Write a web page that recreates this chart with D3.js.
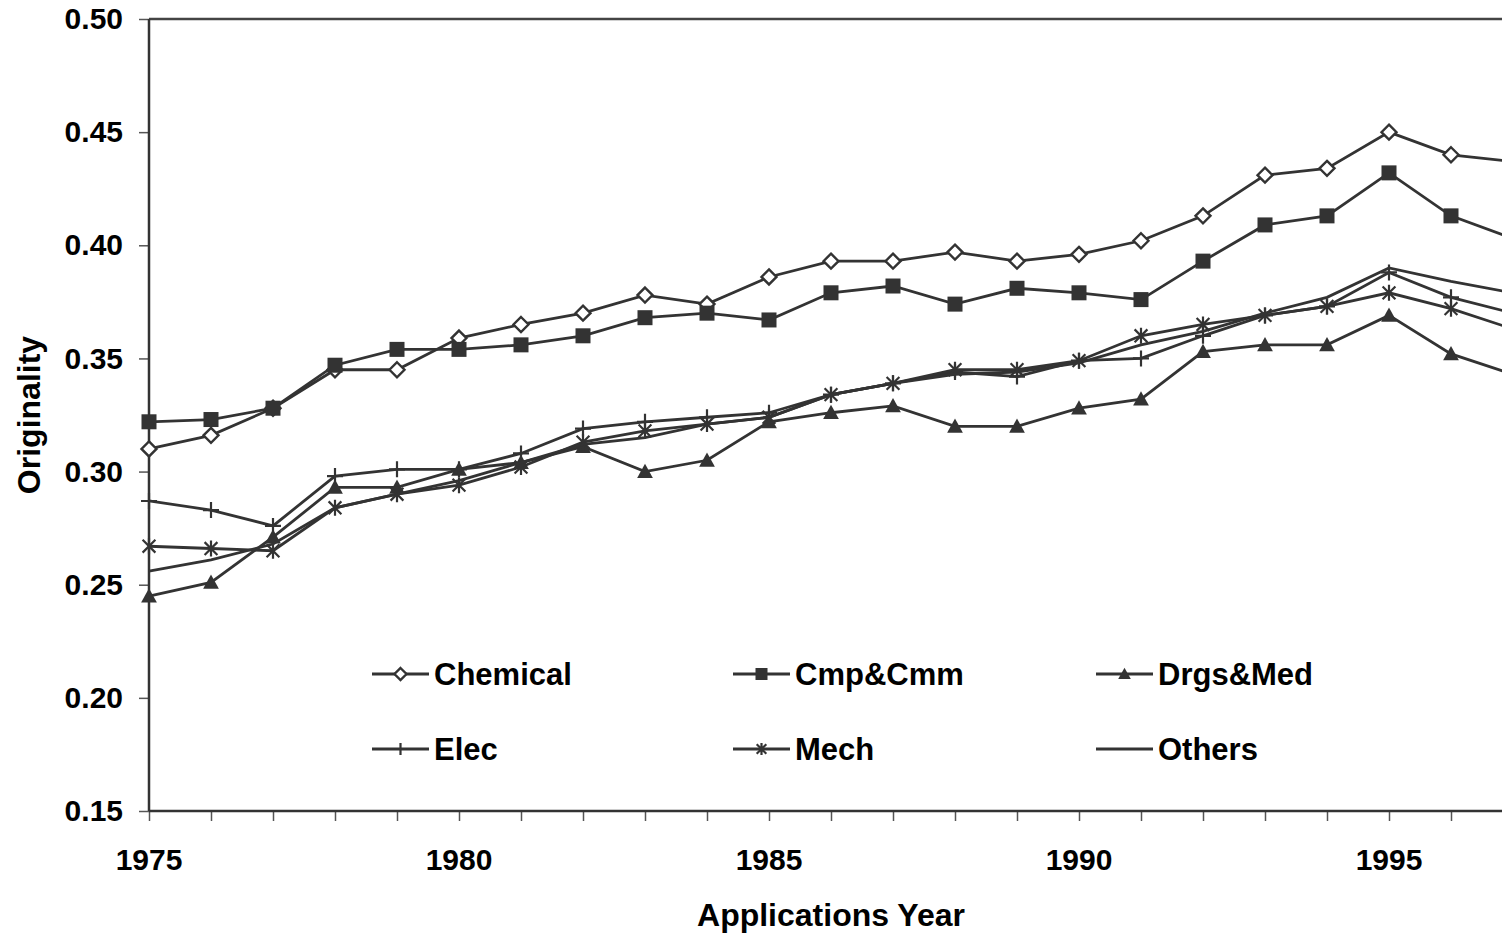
<!DOCTYPE html>
<html>
<head>
<meta charset="utf-8">
<script src="https://cdn.jsdelivr.net/npm/d3@7"></script>
<style>
  body { margin: 0; background: #fff; }
  text { font-family: "Liberation Sans", Arial, sans-serif; font-weight: bold; fill: #000; }
</style>
</head>
<body>
<div id="graph"></div>
<script>
var years = [1975,1976,1977,1978,1979,1980,1981,1982,1983,1984,1985,1986,1987,1988,1989,1990,1991,1992,1993,1994,1995,1996,1997];

var chemical = [0.310,0.316,0.328,0.345,0.345,0.359,0.365,0.370,0.378,0.374,0.386,0.393,0.393,0.397,0.393,0.396,0.402,0.413,0.431,0.434,0.450,0.440,0.437];
var cmpCmm   = [0.322,0.323,0.328,0.347,0.354,0.354,0.356,0.360,0.368,0.370,0.367,0.379,0.382,0.374,0.381,0.379,0.376,0.393,0.409,0.413,0.432,0.413,0.403];
var drgsMed  = [0.245,0.251,0.271,0.293,0.293,0.301,0.304,0.311,0.300,0.305,0.322,0.326,0.329,0.320,0.320,0.328,0.332,0.353,0.356,0.356,0.369,0.352,0.343];
var elec     = [0.287,0.283,0.276,0.298,0.301,0.301,0.308,0.319,0.322,0.324,0.326,0.334,0.339,0.344,0.342,0.349,0.350,0.360,0.369,0.373,0.388,0.377,0.370];
var mech     = [0.267,0.266,0.265,0.284,0.290,0.294,0.302,0.313,0.318,0.321,0.324,0.334,0.339,0.345,0.345,0.349,0.360,0.365,0.369,0.373,0.379,0.372,0.363];
var others   = [0.256,0.261,0.268,0.284,0.290,0.296,0.304,0.312,0.315,0.321,0.324,0.334,0.339,0.343,0.344,0.348,0.356,0.362,0.370,0.377,0.390,0.384,0.379];

var seriesNames = ["Chemical","Cmp&Cmm","Drgs&Med","Elec","Mech","Others"];
var seriesValues = [chemical, cmpCmm, drgsMed, elec, mech, others];
var seriesMarkers = ["diamond","square","triangle","plus","star","none"];

var yTicks = [0.15,0.20,0.25,0.30,0.35,0.40,0.45,0.50];
var xLabels = [1975,1980,1985,1990,1995];

var width = 1502, height = 937;
var ink = "#333333";

var svg = d3.select("#graph").append("svg").attr("width", width).attr("height", height);

var x = d3.scaleLinear().domain([1975, 1995]).range([149, 1389]);
var y = d3.scaleLinear().domain([0.15, 0.50]).range([811, 19]);

// frame: top line and axes
svg.append("line").attr("x1", x(1975)).attr("x2", width).attr("y1", y(0.50)).attr("y2", y(0.50))
   .attr("stroke", "#444").attr("stroke-width", 2.5);

var xAxis = d3.axisBottom(x).tickValues(years).tickSize(10).tickFormat("");
var gx = svg.append("g").attr("transform", "translate(0," + y(0.15) + ")").call(xAxis);
gx.select(".domain").remove();
gx.selectAll(".tick line").attr("stroke", "#555").attr("stroke-width", 1.5);
svg.append("line").attr("x1", x(1975)).attr("x2", width).attr("y1", y(0.15)).attr("y2", y(0.15))
   .attr("stroke", ink).attr("stroke-width", 2.5);

var yAxis = d3.axisLeft(y).tickValues(yTicks).tickSize(10).tickFormat(d3.format(".2f")).tickPadding(16);
var gy = svg.append("g").attr("transform", "translate(" + x(1975) + ",0)").call(yAxis);
gy.select(".domain").remove();
gy.selectAll(".tick line").attr("stroke", "#555").attr("stroke-width", 1.5);
gy.selectAll(".tick text").style("font-size", "30px").style("font-family", "Liberation Sans, Arial, sans-serif").style("font-weight", "bold").attr("fill", "#000");
svg.append("line").attr("x1", x(1975)).attr("x2", x(1975)).attr("y1", y(0.50)).attr("y2", y(0.15))
   .attr("stroke", ink).attr("stroke-width", 2.5);

svg.append("g").selectAll("text").data(xLabels).enter().append("text")
   .attr("x", function(d) { return x(d); }).attr("y", 870)
   .attr("text-anchor", "middle").style("font-size", "30px")
   .text(function(d) { return d; });

svg.append("text").attr("x", 831).attr("y", 926).attr("text-anchor", "middle")
   .style("font-size", "32px").text("Applications Year");

svg.append("text").attr("transform", "translate(40,415) rotate(-90)").attr("text-anchor", "middle")
   .style("font-size", "32px").text("Originality");

// marker drawing
function drawMarker(g, type, s) {
  if (type == "diamond") {
    g.append("path").attr("d", "M0," + (-s) + "L" + s + ",0L0," + s + "L" + (-s) + ",0Z")
     .attr("fill", "#fff").attr("stroke", ink).attr("stroke-width", 2.4);
  } else if (type == "square") {
    g.append("rect").attr("x", -s).attr("y", -s).attr("width", 2 * s).attr("height", 2 * s).attr("fill", ink);
  } else if (type == "triangle") {
    g.append("path").attr("d", "M0," + (-s * 1.05) + "L" + (s * 1.05) + "," + (s * 0.85) + "L" + (-s * 1.05) + "," + (s * 0.85) + "Z").attr("fill", ink);
  } else if (type == "plus") {
    g.append("path").attr("d", "M0," + (-s) + "V" + s + "M" + (-s) + ",0H" + s)
     .attr("stroke", ink).attr("stroke-width", 2.2);
  } else if (type == "star") {
    var k = s * 0.8;
    g.append("path").attr("d", "M0," + (-s) + "V" + s + "M" + (-k) + "," + (-k) + "L" + k + "," + k + "M" + (-k) + "," + k + "L" + k + "," + (-k))
     .attr("stroke", ink).attr("stroke-width", 2.2);
  }
}

var line = d3.line().x(function(d) { return x(d.year); }).y(function(d) { return y(d.value); });

var markerSize = {diamond: 7.5, square: 7.5, triangle: 7.5, plus: 8, star: 8, none: 0};

seriesNames.forEach(function(name, i) {
  var pts = years.map(function(yr, j) { return {year: yr, value: seriesValues[i][j]}; });
  svg.append("path").datum(pts).attr("d", line).attr("fill", "none")
     .attr("stroke", ink).attr("stroke-width", 2.8);
  pts.forEach(function(p) {
    var g = svg.append("g").attr("transform", "translate(" + x(p.year) + "," + y(p.value) + ")");
    drawMarker(g, seriesMarkers[i], markerSize[seriesMarkers[i]]);
  });
});

// legend
var legendCols = [372, 733, 1096];
var legendRows = [674, 749];
seriesNames.forEach(function(name, i) {
  var lx = legendCols[i % 3], ly = legendRows[Math.floor(i / 3)];
  var g = svg.append("g").attr("transform", "translate(" + lx + "," + ly + ")");
  g.append("line").attr("x1", 0).attr("x2", 57).attr("y1", 0).attr("y2", 0)
   .attr("stroke", ink).attr("stroke-width", 2.8);
  var m = g.append("g").attr("transform", "translate(28.5,0)");
  drawMarker(m, seriesMarkers[i], 6);
  g.append("text").attr("x", 62).attr("y", 11).style("font-size", "31px").text(name);
});
</script>
</body>
</html>
